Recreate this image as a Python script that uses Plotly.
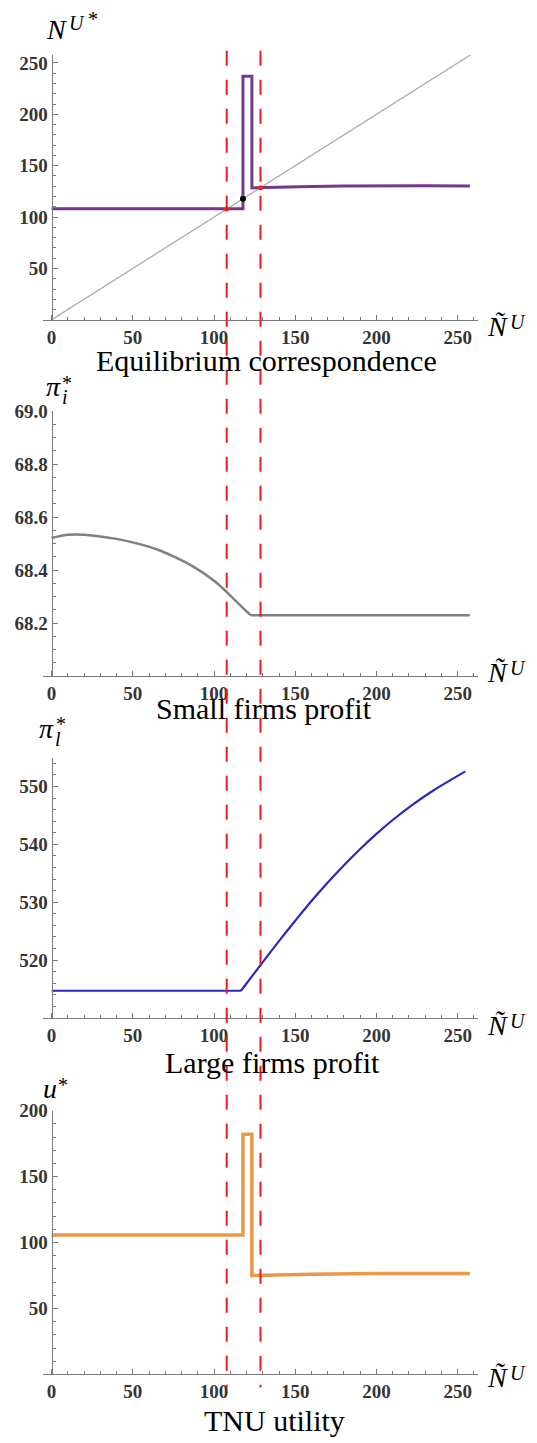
import plotly.graph_objects as go

# ---------------- data ----------------
x_ticks = [0, 50, 100, 150, 200, 250]

# Panel 1: equilibrium correspondence
x_N = [0, 117.8, 117.8, 123.3, 123.3, 140, 160, 180, 200, 230, 257.5]
N_star = [108.2, 108.2, 237, 237, 128.4, 129.2, 129.8, 130.2, 130.4, 130.4, 130.2]
x_diag = [0, 258]
y_diag = [0, 258]
stable_x = [107.8, 128.6]
stable_y = [107.8, 128.6]
unstable_x = [117.8]
unstable_y = [117.8]
N_yticks = [50, 100, 150, 200, 250]

# Panel 2: small firms profit (curved part, then flat part after the kink)
x_pi_i = [0, 6, 14, 25, 40, 53, 65, 75, 87, 100, 108, 116, 122.5]
pi_i = [68.521, 68.530, 68.534, 68.531, 68.518, 68.500, 68.478, 68.452,
        68.414, 68.360, 68.316, 68.268, 68.230]
x_pi_i_flat = [122.5, 257.5]
pi_i_flat = [68.230, 68.230]
pi_i_yticks = [68.2, 68.4, 68.6, 68.8, 69.0]

# Panel 3: large firms profit
x_pi_l_flat = [0, 116.6]
pi_l_flat = [514.7, 514.7]
x_pi_l = [116.6, 129.3, 142, 150, 160, 170, 180, 190, 200, 210, 222.5, 235, 245, 254.7]
pi_l = [514.7, 519.4, 524.0, 526.8, 530.2, 533.4, 536.4, 539.2, 541.8,
        544.2, 546.9, 549.3, 551.0, 552.6]
pi_l_yticks = [520, 530, 540, 550]

# Panel 4: TNU utility
x_u = [0, 117.8, 117.8, 123.3, 123.3, 140, 160, 200, 257.5]
u_star = [105.8, 105.8, 182, 182, 75.0, 75.6, 76.0, 76.5, 76.6]
u_yticks = [50, 100, 150, 200]

thresholds = [107.8, 128.6]

titles = ["Equilibrium correspondence", "Small firms profit",
          "Large firms profit", "TNU utility"]

# ---------------- layout helpers ----------------
W, H = 537, 1443
def px(v):
    return v / W
def py(v):
    return 1 - v / H

SERIF = "Liberation Serif"
TICKFONT = dict(family=SERIF, size=19, color="#353535", weight="bold")
AXCOL = "#7a7a7a"

fig = go.Figure()

def line(x, y, color, width, xa, ya, shape="linear"):
    fig.add_trace(go.Scatter(x=x, y=y, mode="lines",
                             line=dict(color=color, width=width, shape=shape),
                             xaxis=xa, yaxis=ya, showlegend=False,
                             hoverinfo="skip"))

line(x_diag, y_diag, "#a8a8a8", 1.2, "x", "y")
line(x_N, N_star, "#74388f", 3, "x", "y")
fig.add_trace(go.Scatter(x=stable_x, y=stable_y, mode="markers",
                         marker=dict(color="#ff2020", size=5),
                         xaxis="x", yaxis="y", showlegend=False))
fig.add_trace(go.Scatter(x=unstable_x, y=unstable_y, mode="markers",
                         marker=dict(color="#000000", size=6),
                         xaxis="x", yaxis="y", showlegend=False))
line(x_pi_i, pi_i, "#808080", 2.5, "x2", "y2", "spline")
line(x_pi_i_flat, pi_i_flat, "#808080", 2.5, "x2", "y2")
line(x_pi_l_flat, pi_l_flat, "#2a2ab8", 2.2, "x3", "y3")
line(x_pi_l, pi_l, "#2a2ab8", 2.2, "x3", "y3", "spline")
line(x_u, u_star, "#e89a4a", 3.5, "x4", "y4")

panels = [
    (312, 45, [0, 258], N_yticks, 10, [str(v) for v in N_yticks]),
    (670.7, 404, [68, 69], pi_i_yticks, 0.05, ["%.1f" % v for v in pi_i_yticks]),
    (1015, 753.3, [510, 554.9], pi_l_yticks, 2, [str(v) for v in pi_l_yticks]),
    (1374, 1108.3, [0, 200], u_yticks, 10, [str(v) for v in u_yticks]),
]
xdom = [px(43), px(478)]
for i, (yb, yt, yr, yt_vals, ymin, ytxt) in enumerate(panels):
    sfx = "" if i == 0 else str(i + 1)
    fig.update_layout(**{
        "xaxis" + sfx: dict(
            domain=xdom, range=[-5.3, 262.5], anchor="y" + sfx,
            showline=True, linecolor=AXCOL, linewidth=1,
            tickvals=x_ticks, ticktext=[str(v) for v in x_ticks],
            ticks="inside", ticklen=5, tickcolor=AXCOL,
            minor=dict(ticks="inside", ticklen=3, dtick=10, tick0=0, tickcolor=AXCOL),
            showgrid=False, zeroline=False, tickfont=TICKFONT,
        ),
        "yaxis" + sfx: dict(
            domain=[py(yb), py(yt)], range=yr, anchor="free", position=px(51.6),
            showline=True, linecolor=AXCOL, linewidth=1,
            tickvals=yt_vals, ticktext=ytxt,
            ticks="inside", ticklen=5, tickcolor=AXCOL,
            minor=dict(ticks="inside", ticklen=3, dtick=ymin, tickcolor=AXCOL),
            showgrid=False, zeroline=False, tickfont=TICKFONT,
        ),
    })

for xv in thresholds:
    fig.add_shape(type="line", xref="x", yref="paper", x0=xv, x1=xv,
                  y0=py(41), y1=py(1387),
                  line=dict(color="#f01818", width=2, dash="15px,14px"))

def text(s, x_left, baseline, size, italic=False):
    if italic:
        s = "<i>" + s + "</i>"
    fig.add_annotation(text=s, xref="paper", yref="paper",
                       x=px(x_left - 2), y=py(baseline + 0.216 * size + 2),
                       xanchor="left", yanchor="bottom", showarrow=False,
                       font=dict(family=SERIF, size=size, color="#000000"))

def ctext(s, xc, baseline, size):
    fig.add_annotation(text=s, xref="paper", yref="paper",
                       x=px(xc), y=py(baseline + 0.216 * size + 2),
                       xanchor="center", yanchor="bottom", showarrow=False,
                       font=dict(family=SERIF, size=size, color="#000000"))

title_pos = [(266, 362.7), (264, 714), (272, 1070), (274, 1430.7)]
for t, (xc, bl) in zip(titles, title_pos):
    ctext(t, xc, bl, 30)

for bl in [328.3, 676.7, 1031.7, 1386.7]:
    text("Ñ", 487, bl, 28, italic=True)
    text("U", 510, bl - 7, 20, italic=True)

text("N", 46, 29, 28, italic=True)
text("U", 69, 20, 20, italic=True)
text("*", 88, 16, 20)

text("π", 46, 388.3, 28, italic=True)
text("*", 62, 382, 20)
text("i", 62, 396, 20, italic=True)

text("π", 39, 733, 28, italic=True)
text("*", 56, 726, 20)
text("l", 55, 741, 20, italic=True)

text("u", 43, 1096, 28, italic=True)
text("*", 58, 1089, 20)

fig.update_layout(width=W, height=H, margin=dict(l=0, r=0, t=0, b=0),
                  paper_bgcolor="white", plot_bgcolor="white",
                  font=dict(family=SERIF), showlegend=False)

fig.write_html("out.html",
               config={"displayModeBar": False},
               post_script="document.body.style.margin='0';"
                           "document.body.style.overflow='hidden';")
